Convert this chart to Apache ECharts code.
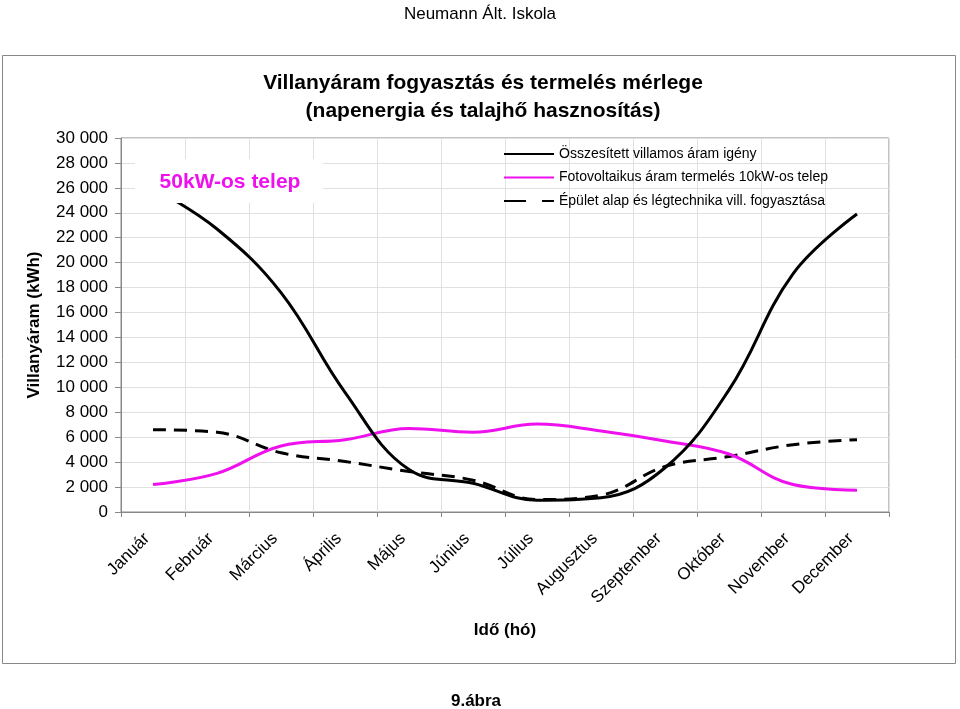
<!DOCTYPE html>
<html>
<head>
<meta charset="utf-8">
<script src="https://cdn.jsdelivr.net/npm/echarts@6/dist/echarts.min.js"></script>
<style>
html,body{margin:0;padding:0;background:#fff;}
#c{width:960px;height:709px;}
</style>
</head>
<body>
<div id="c"></div>
<script>
var months = ['Január','Február','Március','Április','Május','Június','Július','Augusztus','Szeptember','Október','November','December'];
var totalDemand = [26000, 22700, 17600, 9600, 3400, 2300, 950, 1150, 3550, 9800, 19100, 23900];
var pvProduction = [2200, 3100, 5300, 5800, 6700, 6400, 7050, 6500, 5700, 4650, 2200, 1750];
var baseConsumption = [6600, 6400, 4750, 4050, 3250, 2550, 1000, 1350, 3650, 4450, 5400, 5800];
var seriesNames = ['Összesített villamos áram igény','Fotovoltaikus áram termelés 10kW-os telep','Épület alap és légtechnika vill. fogyasztása'];

var FONT = 'Liberation Sans, Arial, sans-serif';
var MAG = '#ee11ee';
var chart = echarts.init(document.getElementById('c'));
chart.setOption({
  backgroundColor: '#fff',
  animation: false,
  textStyle: {fontFamily: FONT},
  title: {
    text: 'Villanyáram fogyasztás és termelés mérlege\n(napenergia és talajhő hasznosítás)',
    left: 478, top: 64, textAlign: 'center',
    textStyle: {fontFamily: FONT, fontSize: 21, fontWeight: 'bold', color: '#000', lineHeight: 28}
  },
  legend: {
    orient: 'vertical', left: 503, top: 147, padding: 0,
    itemWidth: 50, itemHeight: 14, itemGap: 9.5,
    itemStyle: {opacity: 0},
    textStyle: {fontFamily: FONT, fontSize: 14, color: '#000'},
    data: [
      {name: seriesNames[0]},
      {name: seriesNames[1]},
      {name: seriesNames[2], lineStyle: {type: [22, 16]}}
    ]
  },
  grid: {left: 121, right: 71, top: 138, bottom: 197, show: true, borderColor: '#888', borderWidth: 1},
  xAxis: {
    type: 'category', data: months, boundaryGap: true,
    name: 'Idő (hó)', nameLocation: 'middle', nameGap: 110,
    nameTextStyle: {fontFamily: FONT, fontSize: 17, fontWeight: 'bold', color: '#000'},
    axisLine: {lineStyle: {color: '#888'}},
    axisTick: {show: true, length: 5, lineStyle: {color: '#888'}},
    splitLine: {show: true, lineStyle: {color: '#e0e0e0'}},
    axisLabel: {rotate: 45, margin: 30, verticalAlign: 'bottom', fontFamily: FONT, fontSize: 17, color: '#000', interval: 0}
  },
  yAxis: {
    type: 'value', min: 0, max: 30000, interval: 2000,
    name: 'Villanyáram (kWh)', nameLocation: 'middle', nameGap: 78,
    nameTextStyle: {fontFamily: FONT, fontSize: 17, fontWeight: 'bold', color: '#000'},
    axisLine: {show: true, lineStyle: {color: '#888'}},
    axisTick: {show: true, length: 6, lineStyle: {color: '#888'}},
    splitLine: {show: true, lineStyle: {color: '#e0e0e0'}},
    axisLabel: {margin: 13, fontFamily: FONT, fontSize: 17, color: '#000',
      formatter: function(v){ return String(v).replace(/\B(?=(\d{3})+(?!\d))/g, ' '); }}
  },
  series: [
    {name: seriesNames[0], type: 'line', data: totalDemand, smooth: 0.4, symbol: 'none',
     lineStyle: {color: '#000', width: 3}, itemStyle: {color: '#000'}, z: 4},
    {name: seriesNames[1], type: 'line', data: pvProduction, smooth: 0.4, symbol: 'none',
     lineStyle: {color: MAG, width: 3}, itemStyle: {color: MAG}, z: 3},
    {name: seriesNames[2], type: 'line', data: baseConsumption, smooth: 0.4, symbol: 'none',
     lineStyle: {color: '#000', width: 3, type: [13, 8]}, itemStyle: {color: '#000'}, z: 2}
  ],
  graphic: [
    {type: 'rect', z: 0, silent: true, shape: {x: 2.5, y: 55.5, width: 953, height: 608},
     style: {fill: 'none', stroke: '#888', lineWidth: 1}},
    {type: 'text', z: 100, left: 'center', top: 6,
     style: {text: 'Neumann Ált. Iskola', font: '17px ' + FONT, fill: '#000'}},
    {type: 'text', z: 100, x: 476, y: 701,
     style: {text: '9.ábra', font: 'bold 17px ' + FONT, fill: '#000', align: 'center', verticalAlign: 'middle'}},
    {type: 'rect', z: 100, shape: {x: 135, y: 159, width: 188, height: 44}, style: {fill: '#fff'}},
    {type: 'text', z: 101, x: 230, y: 182,
     style: {text: '50kW-os telep', font: 'bold 21px ' + FONT, fill: MAG, align: 'center', verticalAlign: 'middle'}}
  ]
});
</script>
</body>
</html>
